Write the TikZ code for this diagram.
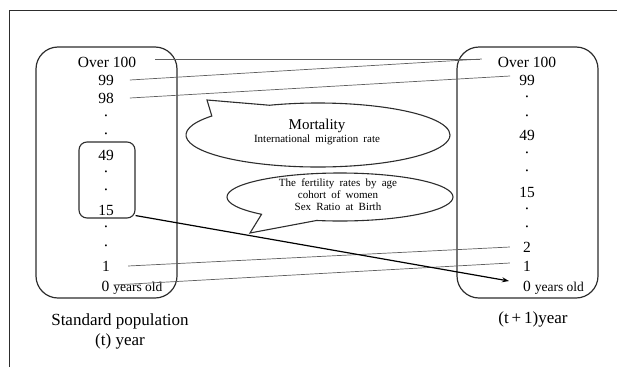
\documentclass[tikz,border=0pt]{standalone}
\usepackage{fontspec}
\setmainfont{Liberation Serif}
\newfontfamily\widefont[WordSpace=1.9]{Liberation Serif}
\usetikzlibrary{calc,shapes.callouts,arrows.meta}
\definecolor{framegray}{RGB}{45,45,45}
\definecolor{linegray}{RGB}{95,95,95}
\tikzset{
  num/.style={inner sep=0pt, font=\fontsize{15.5}{17}\selectfont},
  dotmark/.style={inner sep=0pt, font=\fontsize{8}{9}\selectfont},
  agebox/.style={draw=framegray, line width=1.2pt, rounded corners=22pt, minimum width=141pt, minimum height=251pt},
  innerbox/.style={draw=framegray, line width=1.1pt, rounded corners=8pt, minimum width=56pt, minimum height=76pt},
  bubble/.style={ellipse callout, draw=framegray, line width=1.1pt, inner sep=0pt, callout pointer arc=32},
  conn/.style={draw=linegray, line width=0.7pt},
  bigarrow/.style={draw=black, line width=1.2pt, -{Stealth[length=7pt,width=5pt]}},
  caption/.style={inner sep=0pt, font=\fontsize{17}{20}\selectfont, align=center},
}
\begin{document}
\begin{tikzpicture}[x=1pt,y=-1pt]
\useasboundingbox (0,0) rectangle (617,367);
% frame
\coordinate (fA) at (9,367);
\coordinate (fB) at (9,10);
\coordinate (fC) at (617,10);
\draw[framegray, line width=1pt] (fA) -- (fB) -- (fC);

% boxes
\node[agebox] (lbox) at (106.5,172.5) {};
\node[agebox] (rbox) at (527.5,172.5) {};
\node[innerbox] (ibox) at (107,180) {};

% left column
\node[num] (lO) at (107,62) {Over 100};
\node[num] (l99) at (106,80) {99};
\node[num] (l98) at (106,98) {98};
\node[dotmark] (ld1) at (106,117) {\textbullet};
\node[dotmark] (ld2) at (106,135) {\textbullet};
\node[num] (l49) at (106,155) {49};
\node[dotmark] (ld3) at (106,173) {\textbullet};
\node[dotmark] (ld4) at (106,191) {\textbullet};
\node[num] (l15) at (106,210) {15};
\node[dotmark] (ld5) at (106,228) {\textbullet};
\node[dotmark] (ld6) at (106,247) {\textbullet};
\node[num] (l1) at (106,266) {1};
\node[num, anchor=base west] (l0) at (101.5,291) {0 {\fontsize{13.5}{15}\selectfont years old}};

% right column
\node[num] (rO) at (527,62) {Over 100};
\node[num] (r99) at (527,80) {99};
\node[dotmark] (rd1) at (527,98) {\textbullet};
\node[dotmark] (rd2) at (527,117) {\textbullet};
\node[num] (r49) at (527,135) {49};
\node[dotmark] (rd3) at (527,154) {\textbullet};
\node[dotmark] (rd4) at (527,172) {\textbullet};
\node[num] (r15) at (527,192) {15};
\node[dotmark] (rd5) at (527,210) {\textbullet};
\node[dotmark] (rd6) at (527,228) {\textbullet};
\node[num] (r2) at (527,247) {2};
\node[num] (r1) at (527,266) {1};
\node[num, anchor=base west] (r0) at (523,291) {0 {\fontsize{13.5}{15}\selectfont years old}};

% callouts
\node[bubble, minimum width=264pt, minimum height=64pt, callout absolute pointer={(207,100)}] (mort) at (318,135) {};
\node[inner sep=0pt, align=center] (morttext) at (317,132) {{\fontsize{15}{17}\selectfont Mortality}\\[1pt]{\widefont\fontsize{11}{13}\selectfont International migration rate}};
\node[bubble, minimum width=226pt, minimum height=48pt, callout absolute pointer={(250,233)}] (fert) at (340,197) {};
\node[inner sep=0pt, align=center, font=\widefont\fontsize{11}{12}\selectfont] (ferttext) at (338,195) {The fertility rates by age\\cohort of women\\Sex Ratio at Birth};

% connectors
\draw[conn] ($(lO.east)+(19,-3)$) -- ($(rO.west)+(-18,-3)$);
\draw[conn] ($(l99.east)+(16,0)$) -- ($(rO.west)+(-16,-3)$);
\draw[conn] ($(l98.east)+(16,0)$) -- ($(r99.west)+(-9,-4)$);
\draw[conn] ($(l1.east)+(18,0)$) -- ($(r2.west)+(-13,0)$);
\draw[conn] ($(l0.base west)+(12,-6)$) -- ($(r1.west)+(-13,-3)$);
\draw[bigarrow] ($(ibox.south east)+(0,-3)$) -- ($(r0.base west)+(-14,-10)$);

% captions
\node[caption] (lcap) at (120,331) {Standard population\\(t) year};
\node[caption] (rcap) at (533,319) {(t\,+\,1)year};
\end{tikzpicture}
\end{document}
